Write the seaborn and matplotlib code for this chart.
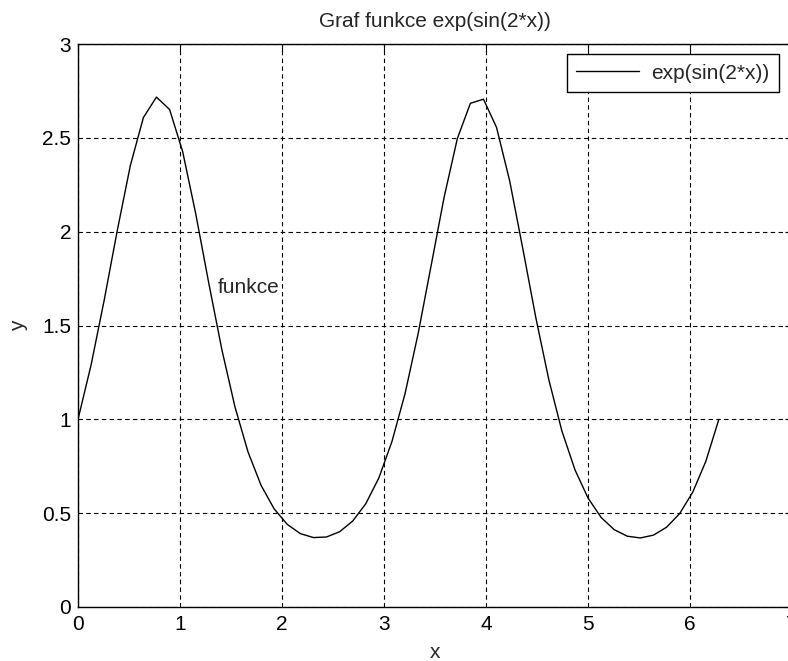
import matplotlib
matplotlib.use('Agg')
import matplotlib.pyplot as plt
import seaborn as sns
import pandas as pd

# sample points (50 points from 0 to 2*pi)
x_vals = [0.000, 0.128, 0.256, 0.385, 0.513, 0.641, 0.769, 0.898, 1.026, 1.154,
          1.282, 1.411, 1.539, 1.667, 1.795, 1.923, 2.052, 2.180, 2.308, 2.436,
          2.565, 2.693, 2.821, 2.949, 3.077, 3.206, 3.334, 3.462, 3.590, 3.719,
          3.847, 3.975, 4.103, 4.232, 4.360, 4.488, 4.616, 4.744, 4.873, 5.001,
          5.129, 5.257, 5.386, 5.514, 5.642, 5.770, 5.899, 6.027, 6.155, 6.283]
y_vals = [1.000, 1.289, 1.633, 2.006, 2.352, 2.608, 2.717, 2.651, 2.427, 2.096,
          1.726, 1.370, 1.066, 0.826, 0.648, 0.523, 0.440, 0.391, 0.370, 0.373,
          0.401, 0.458, 0.550, 0.687, 0.880, 1.136, 1.455, 1.819, 2.185, 2.496,
          2.684, 2.706, 2.556, 2.271, 1.912, 1.543, 1.211, 0.938, 0.730, 0.580,
          0.477, 0.412, 0.377, 0.368, 0.383, 0.425, 0.498, 0.612, 0.776, 1.000]
series_label = 'exp(sin(2*x))'
x_ticks = [0, 1, 2, 3, 4, 5, 6, 7]
y_ticks = [0, 0.5, 1, 1.5, 2, 2.5, 3]
y_tick_labels = ['0', '0.5', '1', '1.5', '2', '2.5', '3']

df = pd.DataFrame({'x': x_vals, 'y': y_vals})

sns.set_style('white')
plt.rcParams['font.family'] = ['Liberation Sans', 'DejaVu Sans']
plt.rcParams['font.size'] = 15

fig = plt.figure(figsize=(7.88, 6.61), dpi=100)
ax = fig.add_axes([78 / 788, 1 - 607 / 661, (792 - 78) / 788, (607 - 44) / 661])

sns.lineplot(data=df, x='x', y='y', color='black', linewidth=1.0,
             label=series_label, ax=ax, sort=False)

ax.set_xlim(0, 7)
ax.set_ylim(0, 3)
ax.set_xticks(x_ticks)
ax.set_yticks(y_ticks)
ax.set_yticklabels(y_tick_labels)
ax.tick_params(direction='in', length=5, width=0.8, top=True, right=True,
               labelsize=15, colors='black')
ax.tick_params(axis='x', pad=6)
ax.tick_params(axis='y', pad=5)
for s in ax.spines.values():
    s.set_color('black')
    s.set_linewidth(1.0)

ax.grid(True, color='black', linestyle=(0, (4, 3)), linewidth=0.8)

ax.set_title('Graf funkce exp(sin(2*x))', fontsize=15, pad=12)
ax.set_xlabel('x', fontsize=15, labelpad=6)
ax.set_ylabel('y', fontsize=15, labelpad=0)
ax.yaxis.set_label_coords(-50 / 714, 0.5)

ax.text(1.37, 1.70, 'funkce', fontsize=15, ha='left', va='center')

leg = ax.legend(loc='upper left', bbox_to_anchor=(0.685, 0.982), frameon=True,
                fancybox=False, edgecolor='black', framealpha=1, fontsize=15,
                handlelength=3.0, borderpad=0.45, handletextpad=0.6,
                borderaxespad=0)
leg.get_frame().set_linewidth(1.0)

fig.savefig('out.png', dpi=100)
